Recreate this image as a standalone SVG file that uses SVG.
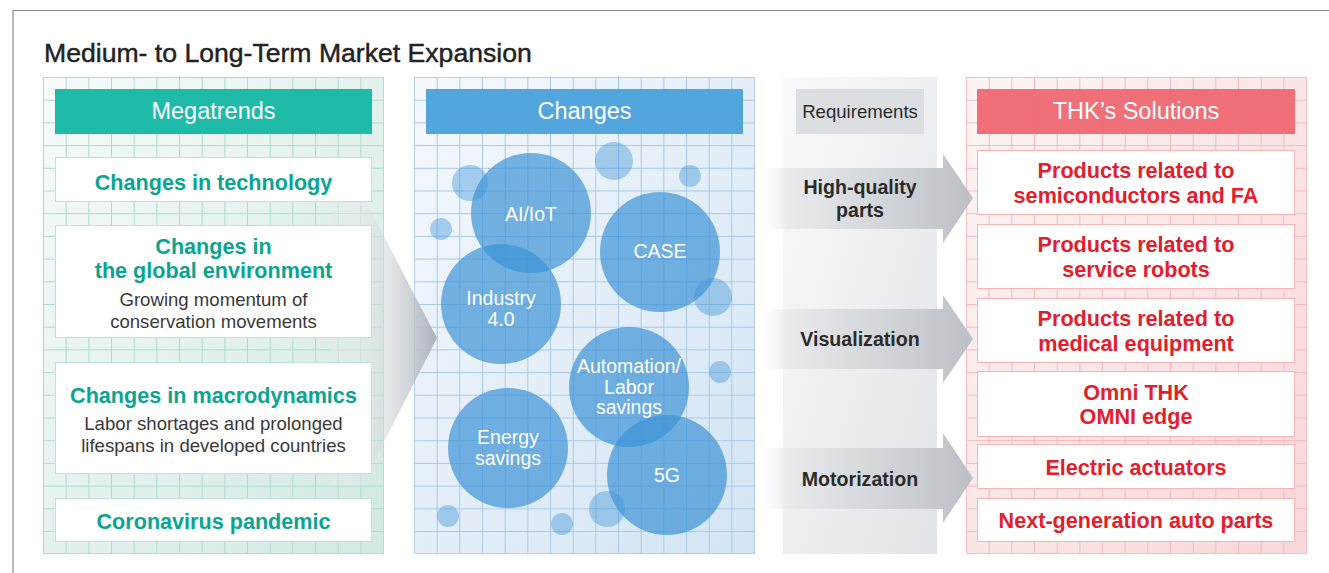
<svg xmlns="http://www.w3.org/2000/svg" width="1329" height="573" viewBox="0 0 1329 573">
<defs>
<style>
text{font-family:"Liberation Sans",Arial,sans-serif;text-anchor:middle}
.title{font-size:26.6px;fill:#222;text-anchor:start;stroke:#222;stroke-width:0.45}
.hdr{font-size:23.5px;fill:#fff}
.teal{font-size:21.6px;font-weight:bold;fill:#0aa591}
.sub{font-size:18.6px;fill:#3a3a3a}
.red{font-size:21.6px;font-weight:bold;fill:#e2202c}
.req{font-size:19.6px;font-weight:bold;fill:#2a2a2a}
.reqh{font-size:18.6px;fill:#2a2a2a}
.clab{font-size:19.5px;fill:#fff}
.tbox{fill:#fff;stroke:#bfe3db;stroke-width:1}
.rbox{fill:#fff;stroke:#f5b4b6;stroke-width:1}
.big{fill:#3d93d6;fill-opacity:0.7}
.sm{fill:#3d93d6;fill-opacity:0.42}
</style>
<linearGradient id="bgT" x1="0" y1="0" x2="1" y2="1"><stop offset="0" stop-color="#f6fbfa"/><stop offset="1" stop-color="#d2e9e3"/></linearGradient>
<linearGradient id="bgB" x1="0" y1="0" x2="1" y2="1"><stop offset="0" stop-color="#f5f9fd"/><stop offset="1" stop-color="#d3e4f4"/></linearGradient>
<linearGradient id="bgR" x1="0" y1="0" x2="1" y2="1"><stop offset="0" stop-color="#fdf5f5"/><stop offset="1" stop-color="#f9d7d8"/></linearGradient>
<linearGradient id="bgG" x1="0" y1="0" x2="1" y2="1"><stop offset="0" stop-color="#fafafb"/><stop offset="1" stop-color="#e2e4e7"/></linearGradient>
<linearGradient id="chev" gradientUnits="userSpaceOnUse" x1="360" y1="0" x2="437" y2="0"><stop offset="0" stop-color="#e8eaec" stop-opacity="0.4"/><stop offset="1" stop-color="#aab0b7" stop-opacity="0.95"/></linearGradient>
<linearGradient id="arr" gradientUnits="userSpaceOnUse" x1="755" y1="0" x2="973" y2="0"><stop offset="0" stop-color="#ffffff" stop-opacity="0"/><stop offset="0.15" stop-color="#e8eaec" stop-opacity="0.95"/><stop offset="1" stop-color="#bcc0c6"/></linearGradient>
<pattern id="gT" patternUnits="userSpaceOnUse" x="43" y="77" width="22.67" height="22.7"><path d="M0 0H22.67M0 0V22.7" stroke="#a9dccf" stroke-width="2" fill="none"/></pattern>
<pattern id="gB" patternUnits="userSpaceOnUse" x="414" y="77" width="22.67" height="22.7"><path d="M0 0H22.67M0 0V22.7" stroke="#a7c9eb" stroke-width="2" fill="none"/></pattern>
<pattern id="gR" patternUnits="userSpaceOnUse" x="966" y="77" width="22.67" height="22.7"><path d="M0 0H22.67M0 0V22.7" stroke="#f6b9bb" stroke-width="2" fill="none"/></pattern>
</defs>
<rect width="1329" height="573" fill="#fff"/>
<path d="M13 573V10.5H1329" fill="none" stroke="#8c8c8c" stroke-width="1.2"/>
<text class="title" x="44" y="62">Medium- to Long-Term Market Expansion</text>

<g id="panel-megatrends">
<rect x="43" y="77" width="341" height="477" fill="url(#bgT)"/>
<rect x="43" y="77" width="341" height="477" fill="url(#gT)"/>
<rect x="43.5" y="77.5" width="340" height="476" fill="none" stroke="#b2ddd3"/>
</g>
<g id="panel-changes">
<rect x="414" y="77" width="341" height="477" fill="url(#bgB)"/>
<rect x="414" y="77" width="341" height="477" fill="url(#gB)"/>
<rect x="414.5" y="77.5" width="340" height="476" fill="none" stroke="#b3d1ee"/>
</g>
<g id="panel-requirements">
<rect x="783" y="77" width="154" height="477" fill="url(#bgG)"/>
</g>
<g id="panel-solutions">
<rect x="966" y="77" width="341" height="477" fill="url(#bgR)"/>
<rect x="966" y="77" width="341" height="477" fill="url(#gR)"/>
<rect x="966.5" y="77.5" width="340" height="476" fill="none" stroke="#f6c0c2"/>
</g>

<g id="connectors">
<polygon points="330,200 365,200 437,338 362,485 330,485" fill="url(#chev)"/>
<polygon points="755,168 943,168 943,154 973,198 943,243 943,229 755,229" fill="url(#arr)"/>
<polygon points="755,309 943,309 943,295 973,339 943,383 943,369 755,369" fill="url(#arr)"/>
<polygon points="755,448 943,448 943,433 973,478 943,523 943,509 755,509" fill="url(#arr)"/>
</g>

<g id="hdr-megatrends"><rect x="55" y="89" width="317" height="45" fill="#17b8a4" fill-opacity="0.96"/><text class="hdr" x="213.5" y="119">Megatrends</text></g>
<g id="mt-technology"><rect class="tbox" x="55.5" y="157.5" width="316" height="44"/><text class="teal" x="213.5" y="190">Changes in technology</text></g>
<g id="mt-global"><rect class="tbox" x="55.5" y="225.5" width="316" height="112"/><text class="teal" x="213.5" y="254">Changes in</text><text class="teal" x="213.5" y="278">the global environment</text><text class="sub" x="213.5" y="306">Growing momentum of</text><text class="sub" x="213.5" y="328">conservation movements</text></g>
<g id="mt-macro"><rect class="tbox" x="55.5" y="362.5" width="316" height="111"/><text class="teal" x="213.5" y="403">Changes in macrodynamics</text><text class="sub" x="213.5" y="430">Labor shortages and prolonged</text><text class="sub" x="213.5" y="452">lifespans in developed countries</text></g>
<g id="mt-corona"><rect class="tbox" x="55.5" y="498.5" width="316" height="43"/><text class="teal" x="213.5" y="529">Coronavirus pandemic</text></g>

<g id="hdr-changes"><rect x="426" y="89" width="317" height="45" fill="#4ca2dc" fill-opacity="0.96"/><text class="hdr" x="584.5" y="119">Changes</text></g>
<g id="bubbles-small">
<circle class="sm" cx="470" cy="183" r="18"/>
<circle class="sm" cx="441" cy="229" r="11"/>
<circle class="sm" cx="614" cy="161" r="19"/>
<circle class="sm" cx="690" cy="176" r="11"/>
<circle class="sm" cx="713" cy="297" r="19"/>
<circle class="sm" cx="720" cy="372" r="11"/>
<circle class="sm" cx="448" cy="516" r="11"/>
<circle class="sm" cx="562" cy="524" r="11"/>
<circle class="sm" cx="607" cy="509" r="18"/>
</g>
<g id="ch-aiiot"><circle class="big" cx="531" cy="213" r="60"/><text class="clab" x="531" y="221">AI/IoT</text></g>
<g id="ch-case"><circle class="big" cx="660" cy="252" r="60"/><text class="clab" x="660" y="258">CASE</text></g>
<g id="ch-industry"><circle class="big" cx="501" cy="304" r="60"/><text class="clab" x="501" y="305">Industry</text><text class="clab" x="501" y="326">4.0</text></g>
<g id="ch-automation"><circle class="big" cx="629" cy="387" r="60"/><text class="clab" x="629" y="373">Automation/</text><text class="clab" x="629" y="394">Labor</text><text class="clab" x="629" y="414">savings</text></g>
<g id="ch-energy"><circle class="big" cx="508" cy="448" r="60"/><text class="clab" x="508" y="444">Energy</text><text class="clab" x="508" y="465">savings</text></g>
<g id="ch-5g"><circle class="big" cx="667" cy="475" r="60"/><text class="clab" x="667" y="482">5G</text></g>

<g id="hdr-requirements"><rect x="796" y="89" width="128" height="45" fill="#dcdfe2"/><text class="reqh" x="860" y="118">Requirements</text></g>
<g id="req-quality"><text class="req" x="860" y="194">High-quality</text><text class="req" x="860" y="217">parts</text></g>
<g id="req-visual"><text class="req" x="860" y="346">Visualization</text></g>
<g id="req-motor"><text class="req" x="860" y="486">Motorization</text></g>

<g id="hdr-solutions"><rect x="977" y="89" width="318" height="45" fill="#ef6a74" fill-opacity="0.96"/><text class="hdr" x="1136" y="119">THK’s Solutions</text></g>
<g id="sol-semi"><rect class="rbox" x="977.5" y="150.5" width="317" height="64"/><text class="red" x="1136" y="178">Products related to</text><text class="red" x="1136" y="203">semiconductors and FA</text></g>
<g id="sol-robots"><rect class="rbox" x="977.5" y="224.5" width="317" height="64"/><text class="red" x="1136" y="252">Products related to</text><text class="red" x="1136" y="277">service robots</text></g>
<g id="sol-medical"><rect class="rbox" x="977.5" y="298.5" width="317" height="64"/><text class="red" x="1136" y="326">Products related to</text><text class="red" x="1136" y="351">medical equipment</text></g>
<g id="sol-omni"><rect class="rbox" x="977.5" y="371.5" width="317" height="65"/><text class="red" x="1136" y="400">Omni THK</text><text class="red" x="1136" y="424">OMNI edge</text></g>
<g id="sol-actuators"><rect class="rbox" x="977.5" y="444.5" width="317" height="44"/><text class="red" x="1136" y="475">Electric actuators</text></g>
<g id="sol-auto"><rect class="rbox" x="977.5" y="498.5" width="317" height="43"/><text class="red" x="1136" y="528">Next-generation auto parts</text></g>
</svg>
